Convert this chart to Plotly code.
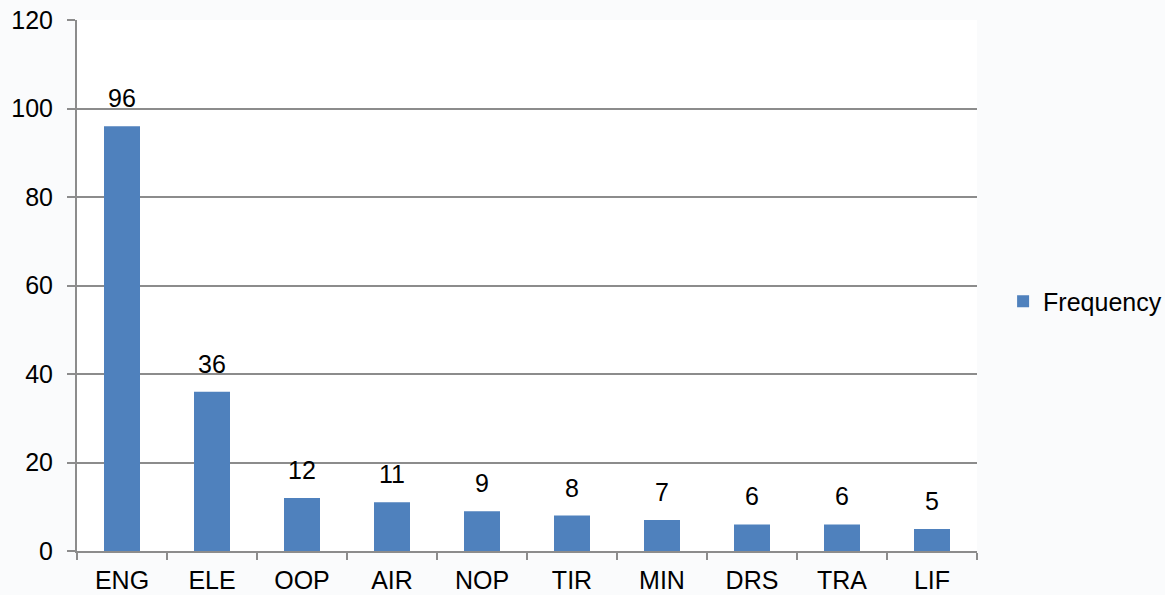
import plotly.graph_objects as go

categories = ["ENG", "ELE", "OOP", "AIR", "NOP", "TIR", "MIN", "DRS", "TRA", "LIF"]
frequency = [96, 36, 12, 11, 9, 8, 7, 6, 6, 5]
y_ticks = [0, 20, 40, 60, 80, 100, 120]

FONT = "Liberation Sans, Arial"

fig = go.Figure()
fig.add_trace(go.Bar(
    x=categories, y=frequency, name="Frequency",
    marker=dict(color="#4f81bd", line=dict(width=0)),
    width=0.4,
))

for c, v in zip(categories, frequency):
    fig.add_annotation(x=c, y=v, text=str(v), showarrow=False,
                       yanchor="bottom", yshift=12,
                       font=dict(family=FONT, size=25, color="#000000"))

axis_color = "#8c8c8c"
fig.update_layout(
    width=1165, height=595,
    margin=dict(l=77, r=188, t=20, b=44, autoexpand=False),
    paper_bgcolor="#fafbfc", plot_bgcolor="#ffffff",
    font=dict(family=FONT, size=25, color="#000000"),
    showlegend=True,
    legend=dict(x=1.029, y=0.47, xanchor="left", yanchor="middle",
                font=dict(size=25, color="#000000"), bgcolor="rgba(0,0,0,0)",
                itemwidth=30),
    bargap=0.6,
)
fig.update_xaxes(
    automargin=False,
    showline=True, linecolor=axis_color, linewidth=2,
    ticks="outside", tickson="boundaries", ticklen=7, tickcolor=axis_color, tickwidth=2,
    tickfont=dict(size=25, color="#000000"), showgrid=False,
    ticklabelstandoff=6,
)
fig.update_yaxes(
    automargin=False,
    range=[0, 120], tickvals=y_ticks, showline=True, linecolor=axis_color, linewidth=2,
    ticks="outside", ticklen=8, tickcolor=axis_color, tickwidth=2,
    gridcolor=axis_color, gridwidth=1.5, zeroline=False,
    tickfont=dict(size=25, color="#000000"),
    ticklabelstandoff=9,
)
fig.write_html("out.html", config={"displayModeBar": False},
               post_script="document.body.style.margin='0px';")
